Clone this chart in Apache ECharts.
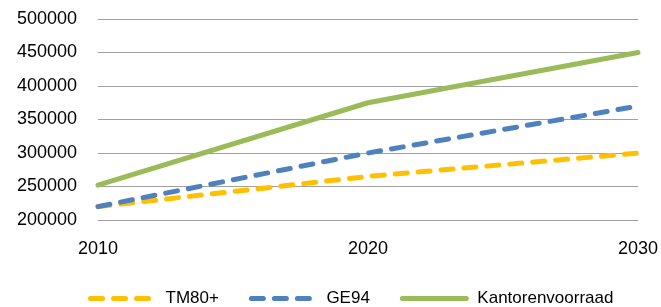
<!DOCTYPE html>
<html>
<head>
<meta charset="utf-8">
<script src="https://cdn.jsdelivr.net/npm/echarts@6/dist/echarts.min.js"></script>
<style>
  html, body { margin: 0; padding: 0; background: #fff; }
  #chart { width: 661px; height: 307px; }
</style>
</head>
<body>
<div id="chart"></div>
<script>
// values
var years = [2010, 2020, 2030];
var tm80 = [220000, 265000, 300000];
var ge94 = [220000, 300000, 370000];
var kantoren = [252000, 375000, 450000];
var seriesNames = ['TM80+', 'GE94', 'Kantorenvoorraad'];

function pairs(vals) {
    return years.map(function (y, i) { return [y, vals[i]]; });
}

var font = '"Liberation Sans", Arial, sans-serif';
var chart = echarts.init(document.getElementById('chart'));

chart.setOption({
    animation: false,
    grid: { left: 98, right: 22, top: 19, bottom: 87 },
    xAxis: {
        type: 'value',
        min: 2010,
        max: 2030,
        interval: 10,
        axisLine: { show: false },
        axisTick: { show: false },
        splitLine: { show: false },
        axisLabel: {
            margin: 20, color: '#000', fontFamily: font, fontSize: 18,
            formatter: function (v) { return String(v); }
        }
    },
    yAxis: {
        type: 'value',
        min: 200000,
        max: 500000,
        interval: 50000,
        axisLine: { show: false },
        axisTick: { show: false },
        splitLine: { lineStyle: { color: '#a0a0a0', width: 1.2 } },
        axisLabel: {
            margin: 21, color: '#000', fontFamily: font, fontSize: 18,
            formatter: function (v) { return String(v); }
        }
    },
    legend: {
        left: 83,
        top: 285,
        itemWidth: 64,
        itemHeight: 14,
        itemGap: 30,
        itemStyle: { opacity: 0 },
        lineStyle: { width: 5, cap: 'round' },
        textStyle: { color: '#000', fontFamily: font, fontSize: 17, padding: [0, 0, 0, 6] },
        data: seriesNames
    },
    series: [
        {
            name: seriesNames[0], type: 'line', symbol: 'none',
            data: pairs(tm80),
            color: '#ffc000',
            lineStyle: { width: 5, type: [12, 11], cap: 'round' }
        },
        {
            name: seriesNames[1], type: 'line', symbol: 'none',
            data: pairs(ge94),
            color: '#4f81bd',
            lineStyle: { width: 5, type: [12, 11], cap: 'round' }
        },
        {
            name: seriesNames[2], type: 'line', symbol: 'none',
            data: pairs(kantoren),
            color: '#9bbb59',
            lineStyle: { width: 5, cap: 'round' }
        }
    ]
});
</script>
</body>
</html>
